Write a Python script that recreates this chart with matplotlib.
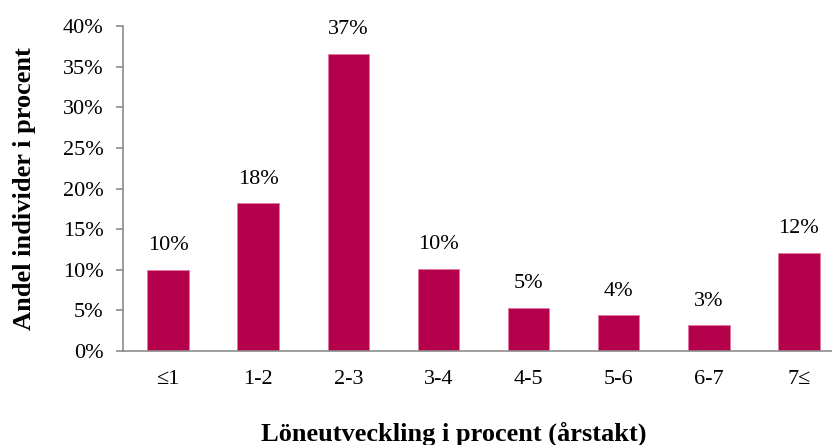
import matplotlib
matplotlib.use('Agg')
import matplotlib.pyplot as plt
from matplotlib.ticker import MultipleLocator, FuncFormatter

plt.rcParams['font.family'] = ['Liberation Serif', 'DejaVu Serif']

categories = ['≤1', '1-2', '2-3', '3-4', '4-5', '5-6', '6-7', '7≤']
shares = [10.0, 18.2, 36.6, 10.1, 5.3, 4.4, 3.2, 12.1]

bar_color = '#B5004B'
axis_color = '#8c8c8c'

fig = plt.figure(figsize=(8.32, 4.45), dpi=100)
ax = fig.add_axes([123 / 832, (445 - 351) / 445, 721 / 832, 325 / 445])

x = range(len(categories))
bars = ax.bar(x, shares, width=0.46, color=bar_color, edgecolor='#e07aa0', linewidth=0.6)

for rect, val in zip(bars, shares):
    ax.annotate(f'{round(val):.0f}%', (rect.get_x() + rect.get_width() / 2, val),
                xytext=(0, 24), textcoords='offset pixels',
                ha='center', va='center', fontsize=16)

ax.set_xlim(-0.5, len(categories) - 0.5)
ax.set_ylim(0, 40)
ax.yaxis.set_major_locator(MultipleLocator(5))
ax.yaxis.set_major_formatter(FuncFormatter(lambda v, p: f'{v:.0f}%'))

ax.set_xticks(list(x))
ax.set_xticklabels(categories)

for side in ['top', 'right']:
    ax.spines[side].set_visible(False)
for side in ['left', 'bottom']:
    ax.spines[side].set_color(axis_color)
    ax.spines[side].set_linewidth(1.2)

ax.tick_params(axis='y', length=5, width=1.2, color=axis_color, labelsize=16, pad=9)
ax.tick_params(axis='x', length=0, labelsize=16, pad=14)

ax.set_ylabel('Andel individer i procent', fontsize=19, fontweight='bold', va='center')
ax.yaxis.set_label_coords(-0.136, 0.5)
ax.set_xlabel('Löneutveckling i procent (årstakt)', fontsize=19, fontweight='bold', va='center')
ax.xaxis.set_label_coords(0.459, -0.255)

fig.savefig('out.png', dpi=100)
